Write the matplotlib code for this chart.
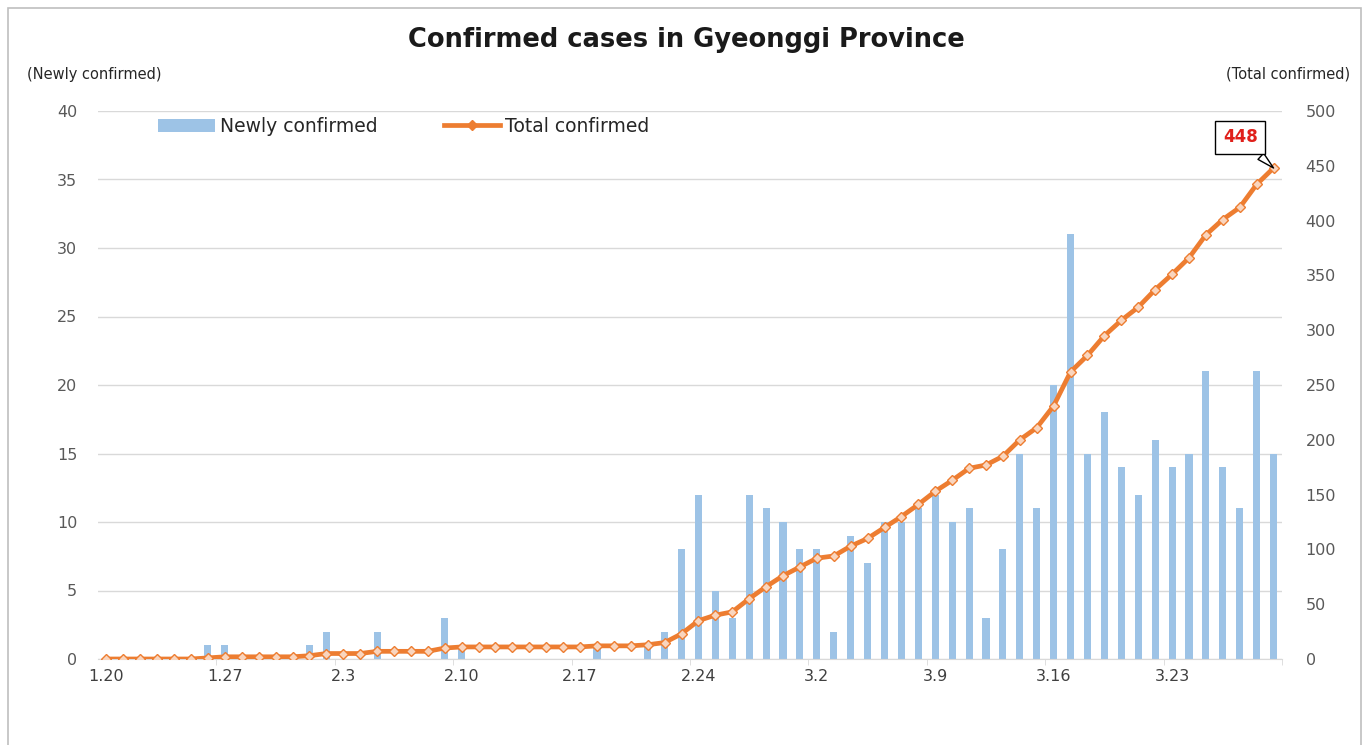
import matplotlib
matplotlib.use("Agg")
import matplotlib.pyplot as plt
import numpy as np
from matplotlib.patches import Rectangle, Patch
from matplotlib.lines import Line2D

# ---- data ----
jan_days = [f"1.{d}" for d in range(20, 32)]
feb_days = [f"2.{d}" for d in range(1, 30)]
mar_days = [f"3.{d}" for d in range(1, 30)]
dates = jan_days + feb_days + mar_days  # 1.20 .. 3.29

new_jan = [0, 0, 0, 0, 0, 0, 1, 1, 0, 0, 0, 0]
new_feb = [1, 2, 0, 0, 2, 0, 0, 0, 3, 1, 0, 0, 0, 0, 0, 0, 0, 1, 0, 0,
           1, 2, 8, 12, 5, 3, 12, 11, 10]
new_mar = [8, 8, 2, 9, 7, 10, 10, 11, 12, 10, 11, 3, 8, 15, 11, 20, 31, 15,
           18, 14, 12, 16, 14, 15, 21, 14, 11, 21, 15]
newly = new_jan + new_feb + new_mar
total = list(np.cumsum(newly))

tick_labels = ["1.20", "1.27", "2.3", "2.10", "2.17", "2.24", "3.2", "3.9", "3.16", "3.23"]

title = "Confirmed cases in Gyeonggi Province"
left_label = "(Newly confirmed)"
right_label = "(Total confirmed)"

BLUE = "#9DC3E6"
ORANGE = "#ED7D31"
GRID = "#D9D9D9"
TXT = "#595959"

plt.rcParams['font.family'] = ['DejaVu Sans']

fig = plt.figure(figsize=(13.69, 7.45), dpi=100)
fig.patch.set_facecolor("white")

# outer border
fig.add_artist(Rectangle((8/1369, -0.02), (1361-8)/1369, (737)/745 + 0.02,
                         transform=fig.transFigure, fill=False,
                         edgecolor="#BFBFBF", linewidth=1.2))

ax = fig.add_axes([98/1369, 86/745, 1184/1369, 548/745])
x = np.arange(len(dates))
ax.bar(x, newly, width=0.42, color=BLUE, zorder=2)
ax.set_xlim(-0.5, len(dates) - 0.5)
ax.set_ylim(0, 40)
ax.set_yticks(np.arange(0, 41, 5))
ax.yaxis.grid(True, color=GRID, linewidth=1, zorder=0)
ax.set_axisbelow(True)
for s in ["top", "left", "right"]:
    ax.spines[s].set_visible(False)
ax.spines["bottom"].set_color(GRID)
ax.tick_params(axis="y", length=0, pad=15, labelsize=11.5, labelcolor=TXT)

label_pos = [dates.index(l) for l in tick_labels]
ax.set_xticks(label_pos)
ax.set_xticklabels(tick_labels)
ax.tick_params(axis="x", which="major", length=0, pad=7, labelsize=11.5, labelcolor="#404040")
ax.set_xticks(np.arange(6.5, len(dates), 7), minor=True)
ax.tick_params(axis="x", which="minor", length=4, color=GRID)

ax2 = ax.twinx()
ax2.plot(x, total, color=ORANGE, linewidth=3.4, marker="D", markersize=5,
         markerfacecolor="#F9D5BE", markeredgecolor=ORANGE, markeredgewidth=1, zorder=3)
ax2.set_ylim(0, 500)
ax2.set_yticks(np.arange(0, 501, 50))
for s in ["top", "left", "right", "bottom"]:
    ax2.spines[s].set_visible(False)
ax2.tick_params(axis="y", length=0, pad=17, labelsize=11.5, labelcolor=TXT)

# callout for last value
ax2.annotate(str(total[-1]), xy=(x[-1], total[-1]), xytext=(-24, 22),
             textcoords="offset points", ha="center", va="center",
             color="#E0201B", fontsize=12, fontweight="bold",
             bbox=dict(boxstyle="square,pad=0.45", fc="white", ec="black", lw=1),
             arrowprops=dict(arrowstyle="wedge,tail_width=0.5,shrink_factor=0.5",
                             fc="white", ec="black", lw=1, shrinkB=0),
             zorder=5)

# legend
handles = [Patch(facecolor=BLUE, edgecolor="none", label="Newly confirmed"),
           Line2D([0], [0], color=ORANGE, lw=3.4, marker="D", markersize=5,
                  markerfacecolor=ORANGE, label="Total confirmed")]
leg = ax2.legend(handles=handles, loc="center left", bbox_to_anchor=(0.051, 0.972),
                 ncol=2, frameon=False, fontsize=13.5, handlelength=3.0,
                 handleheight=0.7, columnspacing=3.5, handletextpad=0.3,
                 borderaxespad=0, borderpad=0)
for t in leg.get_texts():
    t.set_color("#262626")

fig.text(686/1369, 1 - 40/745, title, ha="center", va="center",
         fontsize=18.5, fontweight="bold", color="#1a1a1a")
fig.text(27/1369, 1 - 74/745, left_label, ha="left", va="center",
         fontsize=10.5, color="#262626")
fig.text(1350/1369, 1 - 74/745, right_label, ha="right", va="center",
         fontsize=10.5, color="#262626")

fig.savefig("out.png", dpi=100, facecolor="white")
